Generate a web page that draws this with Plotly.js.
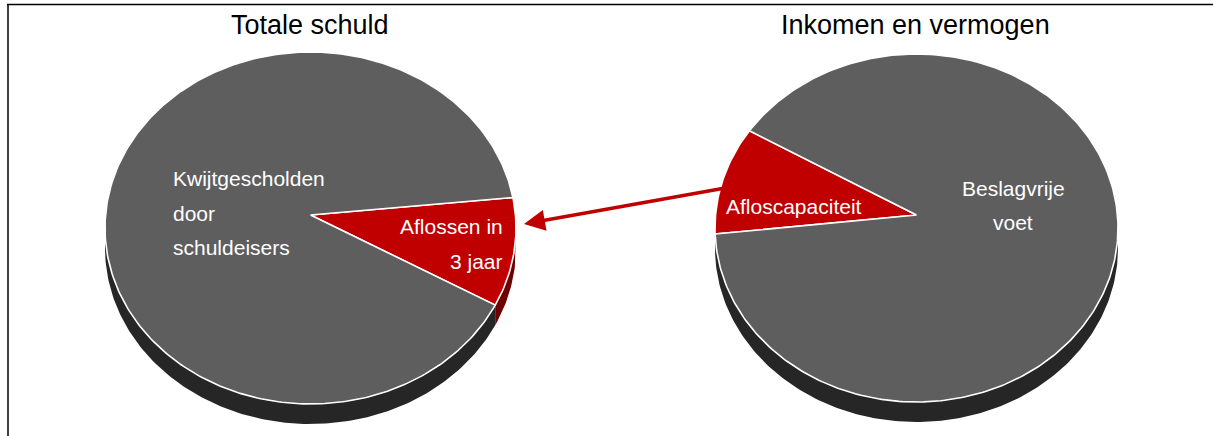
<!DOCTYPE html>
<html>
<head>
<meta charset="utf-8">
<script src="https://cdn.plot.ly/plotly-3.0.1.min.js"></script>
<style>html,body{margin:0;padding:0;background:#fff;}#chart{width:1213px;height:436px;}</style>
</head>
<body>
<div id="chart"></div>
<script>
// ---- data ----
const pieTitles = ["Totale schuld", "Inkomen en vermogen"];
const leftCategories = ["Aflossen in 3 jaar", "Kwijtgescholden door schuldeisers"];
const leftValues = [10, 90];
const rightCategories = ["Afloscapaciteit", "Beslagvrije voet"];
const rightValues = [10, 90];

// ---- style / geometry (pixel units) ----
const W = 1213, H = 436;
const topColors = ["#c00000", "#5e5e5e"];
const sideColors = ["#6e0000", "#262626"];
const pies = [
  {cats: leftCategories, vals: leftValues, cx: 310.5, cy: 228, rx: 205.5, ry: 176, apexY: 215, depth: 20, rot: 10},
  {cats: rightCategories, vals: rightValues, cx: 916.5, cy: 228, rx: 201.5, ry: 174, apexY: 215, depth: 20, rot: 182}
];

function arc(p, t0, t1, dy) {
  const xs = [], ys = [];
  const n = Math.max(2, Math.ceil(Math.abs(t1 - t0) / 1));
  for (let i = 0; i <= n; i++) {
    const t = (t0 + (t1 - t0) * i / n) * Math.PI / 180;
    xs.push(p.cx + p.rx * Math.cos(t));
    ys.push(p.cy + dy - p.ry * Math.sin(t));
  }
  return {xs, ys};
}

const sideTraces = [], topTraces = [];
pies.forEach(p => {
  const total = p.vals.reduce((a, b) => a + b, 0);
  let cum = 0;
  p.vals.forEach((v, i) => {
    const tStart = p.rot - cum / total * 360;
    const tEnd = p.rot - (cum + v) / total * 360;
    cum += v;
    // side (front half only)
    for (let k = -2; k <= 1; k++) {
      const a = Math.max(tEnd, 180 + 360 * k);
      const b = Math.min(tStart, 360 + 360 * k);
      if (b > a) {
        const up = arc(p, a, b, 0);
        const dn = arc(p, b, a, p.depth);
        sideTraces.push({
          type: "scatter", mode: "lines", fill: "toself",
          x: up.xs.concat(dn.xs), y: up.ys.concat(dn.ys),
          fillcolor: sideColors[i], line: {width: 0, color: sideColors[i]},
          hoverinfo: "skip", showlegend: false
        });
      }
    }
    // top face
    const per = arc(p, tStart, tEnd, 0);
    topTraces.push({
      type: "scatter", mode: "lines", fill: "toself",
      x: [p.cx].concat(per.xs, [p.cx]),
      y: [p.apexY].concat(per.ys, [p.apexY]),
      fillcolor: topColors[i], line: {width: 1.6, color: "#ffffff"},
      name: p.cats[i], hoverinfo: "skip", showlegend: false
    });
  });
});

const labelFont = {family: "Liberation Sans, Arial, sans-serif", size: 21, color: "#ffffff"};
const titleFont = {family: "Liberation Sans, Arial, sans-serif", size: 27, color: "#000000"};
function lab(text, x, y, anchor, font) {
  return {text, x, y, xref: "x", yref: "y", xanchor: anchor, yanchor: "middle", showarrow: false, font: font || labelFont};
}
const annotations = [
  lab(pieTitles[0], 310, 25, "center", titleFont),
  lab(pieTitles[1], 915, 25, "center", titleFont),
  lab("Kwijtgescholden", 171, 178, "left"),
  lab("door", 171, 213, "left"),
  lab("schuldeisers", 171, 247, "left"),
  lab("Aflossen in", 505, 226, "right"),
  lab("3 jaar", 505, 261, "right"),
  lab("Afloscapaciteit", 724, 206, "left"),
  lab("Beslagvrije", 1013, 188, "center"),
  lab("voet", 1013, 222, "center"),
  {x: 524, y: 224, ax: 731, ay: 187, xref: "x", yref: "y", axref: "x", ayref: "y",
   text: "", showarrow: true, arrowhead: 2, arrowsize: 1.2, arrowwidth: 3.5, arrowcolor: "#c00000", standoff: 0}
];

const layout = {
  width: W, height: H,
  margin: {l: 0, r: 0, t: 0, b: 0},
  paper_bgcolor: "#ffffff", plot_bgcolor: "#ffffff",
  xaxis: {range: [0, W], visible: false, fixedrange: true},
  yaxis: {range: [H, 0], visible: false, fixedrange: true},
  showlegend: false,
  annotations,
  shapes: [
    {type: "line", xref: "x", yref: "y", x0: 7, x1: W, y0: 4.5, y1: 4.5, line: {color: "#000", width: 1.5}},
    {type: "line", xref: "x", yref: "y", x0: 8, x1: 8, y0: 4.5, y1: H, line: {color: "#000", width: 1.5}}
  ]
};

Plotly.newPlot("chart", sideTraces.concat(topTraces), layout, {staticPlot: true, displayModeBar: false});
</script>
</body>
</html>
